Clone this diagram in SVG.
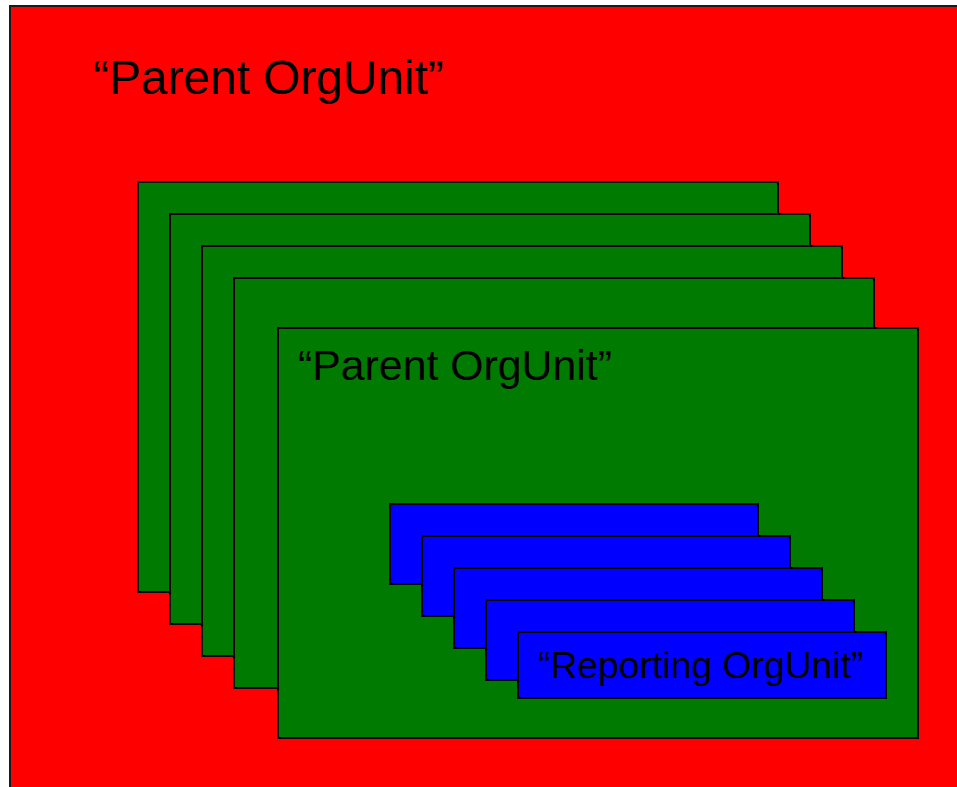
<svg xmlns="http://www.w3.org/2000/svg" width="957" height="787" viewBox="0 0 957 787">
<style>
.red{fill:#ff0000;stroke:#1a1a1a;stroke-width:2}
.grn{fill:#007a00;stroke:#000;stroke-width:2}
.blu{fill:#0000ff;stroke:#000;stroke-width:2}
text{font-family:"Liberation Sans",Arial,sans-serif;fill:#000}
</style>
<rect width="957" height="787" fill="#fff"/>
<g id="parent-outer">
<rect class="red" x="10" y="6" width="960" height="800"/>
<text x="93" y="94" font-size="47.8">“Parent OrgUnit”</text>
</g>
<g id="parent-1"><rect class="grn" x="138" y="182" width="640" height="410"/></g>
<g id="parent-2"><rect class="grn" x="170" y="214" width="640" height="410"/></g>
<g id="parent-3"><rect class="grn" x="202" y="246" width="640" height="410"/></g>
<g id="parent-4"><rect class="grn" x="234" y="278" width="640" height="410"/></g>
<g id="parent-5">
<rect class="grn" x="278" y="328" width="640" height="410"/>
<text x="298" y="380" font-size="42.8">“Parent OrgUnit”</text>
</g>
<g id="reporting-1"><rect class="blu" x="390" y="504" width="368" height="80"/></g>
<g id="reporting-2"><rect class="blu" x="422" y="536" width="368" height="80"/></g>
<g id="reporting-3"><rect class="blu" x="454" y="568" width="368" height="80"/></g>
<g id="reporting-4"><rect class="blu" x="486" y="600" width="368" height="80"/></g>
<g id="reporting-5">
<rect class="blu" x="518" y="632" width="368" height="66"/>
<text x="538" y="678" font-size="37.3">“Reporting OrgUnit”</text>
</g>
<g id="connectors"/>
</svg>
